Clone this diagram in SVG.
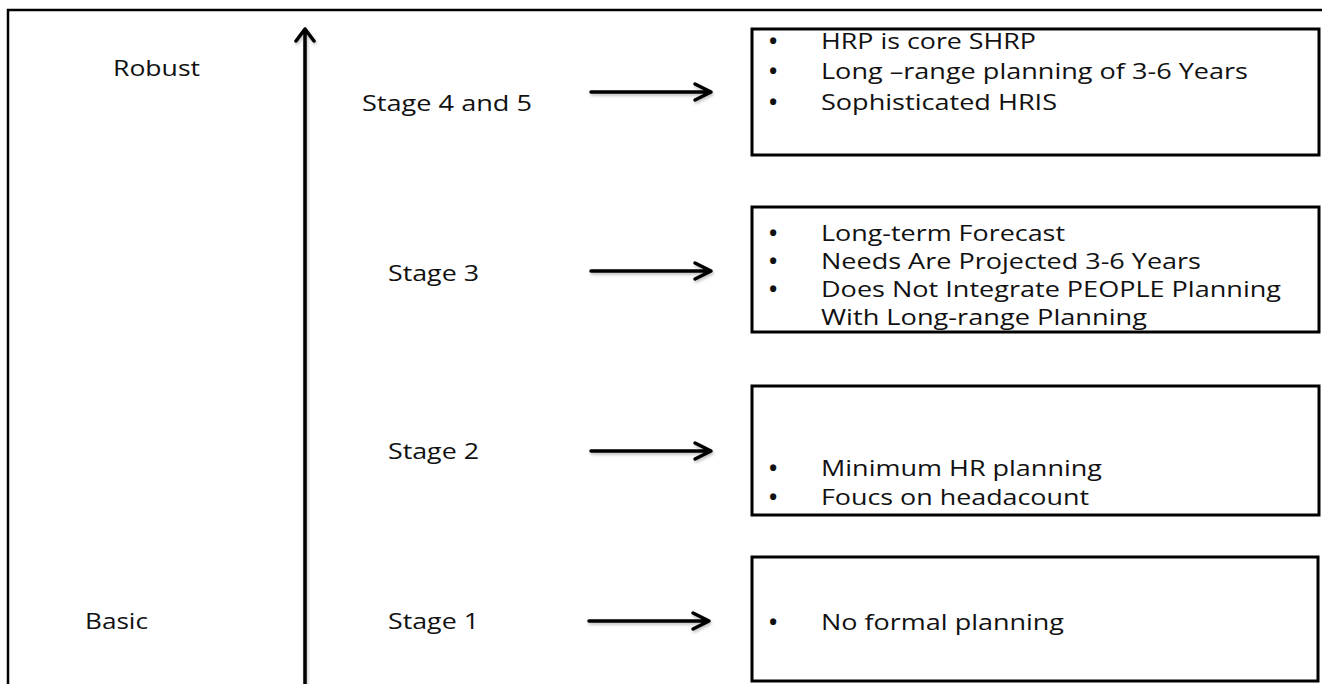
<svg xmlns="http://www.w3.org/2000/svg" width="1322" height="684" viewBox="0 0 1322 684">
<style>
  text { font-family: "Open Sans", "Liberation Sans", sans-serif; font-size: 22px; fill: #111; }
  .b { font-weight: bold; }
  .box { fill: #fff; stroke: #000; stroke-width: 3; }
  .arr { fill: none; stroke: #000; stroke-width: 3.5; stroke-linecap: round; stroke-linejoin: round; }
</style>
<defs>
  <filter id="sh" x="-10%" y="-50%" width="120%" height="200%">
    <feDropShadow dx="1" dy="2" stdDeviation="1.5" flood-color="#000" flood-opacity="0.25"/>
  </filter>
</defs>
<rect width="1322" height="684" fill="#fff"/>
<path d="M8,684 V10 H1322" fill="none" stroke="#000" stroke-width="2.5"/>

<g id="axis-labels">
  <text x="113" y="76" textLength="87" lengthAdjust="spacingAndGlyphs">Robust</text>
  <text x="85" y="629" textLength="63" lengthAdjust="spacingAndGlyphs">Basic</text>
</g>

<g id="stage-labels">
  <text x="362" y="111" textLength="170" lengthAdjust="spacingAndGlyphs">Stage 4 and 5</text>
  <text x="388" y="281" textLength="91" lengthAdjust="spacingAndGlyphs">Stage 3</text>
  <text x="388" y="459" textLength="91" lengthAdjust="spacingAndGlyphs">Stage 2</text>
  <text x="388" y="629" textLength="91" lengthAdjust="spacingAndGlyphs">Stage 1</text>
</g>

<g id="connectors" filter="url(#sh)">
  <path class="arr" d="M305,684 V29 M296,41 L305,29 L314,41"/>
  <path class="arr" d="M591,92 H710 M695,84 L711,92 L695,100"/>
  <path class="arr" d="M591,271 H710 M695,263 L711,271 L695,279"/>
  <path class="arr" d="M591,451 H710 M695,443 L711,451 L695,459"/>
  <path class="arr" d="M589,621 H708 M693,613 L709,621 L693,629"/>
</g>

<g id="box-stage45">
  <rect class="box" x="752" y="29" width="567" height="126"/>
  <text class="b" x="769" y="49">•</text><text x="821" y="49" textLength="215" lengthAdjust="spacingAndGlyphs">HRP is core SHRP</text>
  <text class="b" x="769" y="79">•</text><text x="821" y="79" textLength="427" lengthAdjust="spacingAndGlyphs">Long –range planning of 3-6 Years</text>
  <text class="b" x="769" y="110">•</text><text x="821" y="110" textLength="236" lengthAdjust="spacingAndGlyphs">Sophisticated HRIS</text>
</g>

<g id="box-stage3">
  <rect class="box" x="752" y="207" width="567" height="125"/>
  <text class="b" x="769" y="241">•</text><text x="821" y="241" textLength="244" lengthAdjust="spacingAndGlyphs">Long-term Forecast</text>
  <text class="b" x="769" y="269">•</text><text x="821" y="269" textLength="380" lengthAdjust="spacingAndGlyphs">Needs Are Projected 3-6 Years</text>
  <text class="b" x="769" y="297">•</text><text x="821" y="297" textLength="460" lengthAdjust="spacingAndGlyphs">Does Not Integrate PEOPLE Planning</text>
  <text x="821" y="325" textLength="326" lengthAdjust="spacingAndGlyphs">With Long-range Planning</text>
</g>

<g id="box-stage2">
  <rect class="box" x="752" y="386" width="567" height="129"/>
  <text class="b" x="769" y="476">•</text><text x="821" y="476" textLength="281" lengthAdjust="spacingAndGlyphs">Minimum HR planning</text>
  <text class="b" x="769" y="505">•</text><text x="821" y="505" textLength="268" lengthAdjust="spacingAndGlyphs">Foucs on headacount</text>
</g>

<g id="box-stage1">
  <rect class="box" x="752" y="557" width="566" height="124"/>
  <text class="b" x="769" y="630">•</text><text x="821" y="630" textLength="243" lengthAdjust="spacingAndGlyphs">No formal planning</text>
</g>
</svg>
